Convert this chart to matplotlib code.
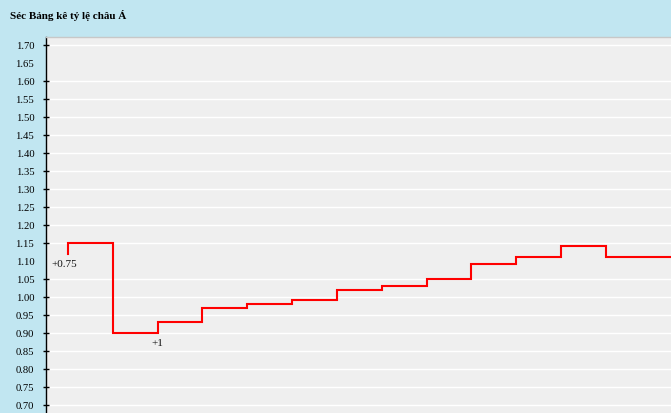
import matplotlib
matplotlib.use("Agg")
import matplotlib.pyplot as plt

# ---- data ----
title = "Séc Bảng kê tỷ lệ châu Á"
start_value = 1.12
step_values = [1.15, 0.90, 0.93, 0.97, 0.98, 0.99, 1.02, 1.03, 1.05, 1.09, 1.11, 1.14, 1.11]
handicap_labels = ["+0.75", "+1"]
handicap_steps = [0, 2]
handicap_values = [1.12, 0.90]
ytick_values = [0.70, 0.75, 0.80, 0.85, 0.90, 0.95, 1.00, 1.05, 1.10, 1.15, 1.20,
                1.25, 1.30, 1.35, 1.40, 1.45, 1.50, 1.55, 1.60, 1.65, 1.70]
ytick_labels = ["%.2f" % v for v in ytick_values]
no_grid_labels = ["1.65", "1.10"]

# label offsets in points (style only)
label_dx = [-2.5, 0.0]

W, H = 671, 414
BLUE = "#c1e6f1"
fig = plt.figure(figsize=(W / 100, H / 100), dpi=100, facecolor=BLUE)
ax = fig.add_axes([46 / W, 0, 1 - 46 / W, 1 - 38 / H])
ax.set_facecolor("#efefef")

x_end = 13.45
xs = [0] + list(range(len(step_values))) + [x_end]
ys = [start_value] + step_values + [step_values[-1]]
ax.plot(xs, ys, drawstyle="steps-post", color="#ff0000", lw=1.5, zorder=3,
        solid_joinstyle="miter")

for lab, i, v, dx in zip(handicap_labels, handicap_steps, handicap_values, label_dx):
    ax.annotate(lab, (i, v), xytext=(dx, -3.8), textcoords="offset points",
                ha="center", va="top", fontsize=8, family="Liberation Serif",
                color="#111111")

ax.set_xlim(-0.49, x_end)
ax.set_ylim(0.677, 1.7214)
ax.set_xticks([])
ax.set_yticks(ytick_values)
ax.set_yticklabels(ytick_labels, family="Liberation Serif", fontsize=7.7)
ax.tick_params(axis="y", direction="inout", length=5, width=1, color="black",
               pad=6)
ax.grid(axis="y", color="white", lw=1)
ax.set_axisbelow(True)
for t, lab in zip(ax.yaxis.get_major_ticks(), ytick_labels):
    if lab in no_grid_labels:
        t.tick1line.set_visible(False)
        t.gridline.set_visible(False)

ax.spines["left"].set_color("black")
ax.spines["left"].set_linewidth(1)
ax.spines["top"].set_color("#c8c8c8")
ax.spines["top"].set_linewidth(1)
ax.spines["right"].set_visible(False)
ax.spines["bottom"].set_visible(False)

fig.text(10 / W, 1 - 19 / H, title, family="Liberation Serif", fontweight="bold",
         fontsize=8, color="black", va="baseline", ha="left")

fig.savefig("out.png", dpi=100, facecolor=BLUE)
